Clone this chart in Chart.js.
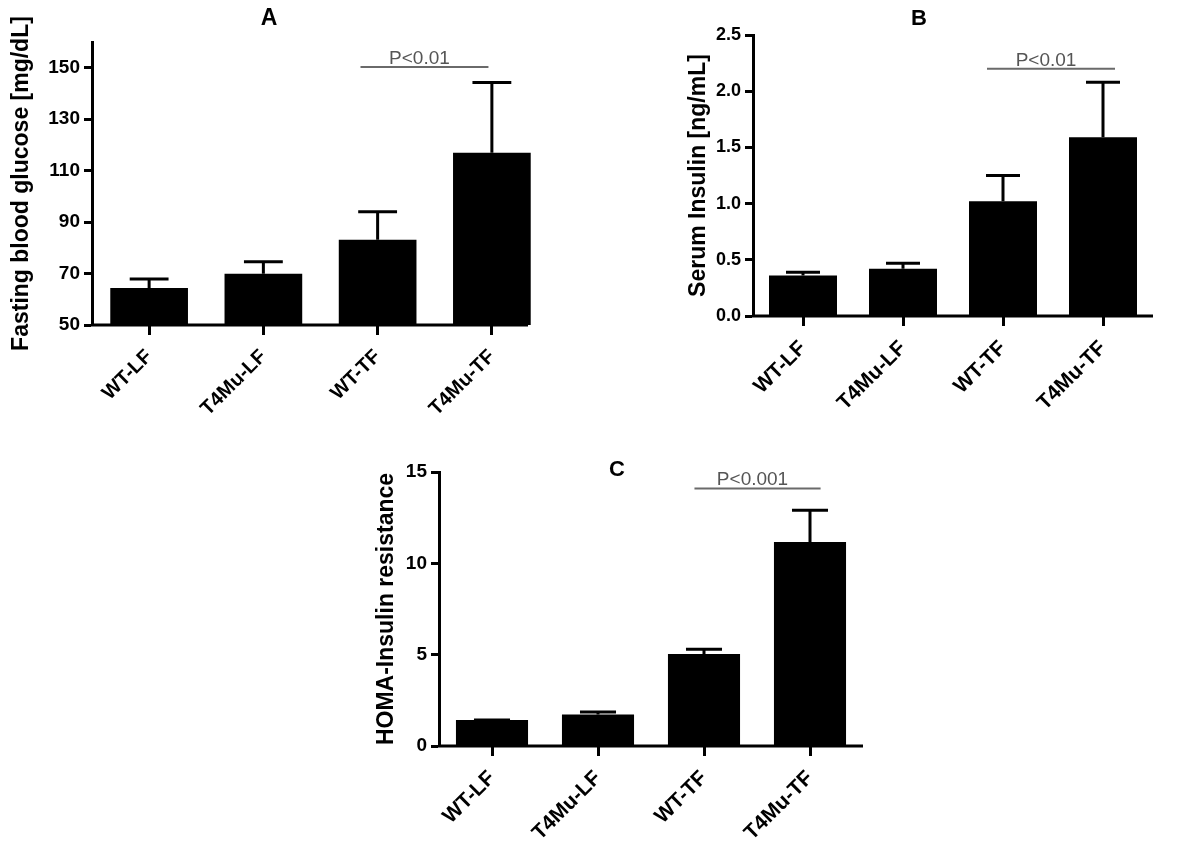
<!DOCTYPE html>
<html>
<head>
<meta charset="utf-8">
<script src="https://cdn.jsdelivr.net/npm/chart.js@4"></script>
<style>
  body { margin: 0; background: #fff; }
  #page { position: relative; width: 1200px; height: 845px; overflow: hidden; }
  canvas { position: absolute; }
</style>
</head>
<body>
<div id="page">
  <canvas id="chartA" width="560" height="420" style="left:0;top:0"></canvas>
  <canvas id="chartB" width="490" height="420" style="left:680px;top:0"></canvas>
  <canvas id="chartC" width="520" height="405" style="left:370px;top:440px"></canvas>
</div>
<script>
const groups = ['WT-LF', 'T4Mu-LF', 'WT-TF', 'T4Mu-TF'];

// A: fasting blood glucose (mean, SEM)
const glucoseMean = [64.4, 69.9, 83.1, 117.0];
const glucoseSem = [3.5, 4.7, 10.9, 27.3];
const glucoseTicks = [50, 70, 90, 110, 130, 150];

// B: serum insulin
const insulinMean = [0.36, 0.42, 1.02, 1.59];
const insulinSem = [0.03, 0.05, 0.23, 0.49];
const insulinTicks = [0, 0.5, 1.0, 1.5, 2.0, 2.5];

// C: HOMA-IR
const homaMean = [1.42, 1.72, 5.03, 11.17];
const homaSem = [0.01, 0.14, 0.27, 1.73];
const homaTicks = [0, 5, 10, 15];

Chart.defaults.font.family = "'Liberation Sans', Arial, sans-serif";
Chart.defaults.color = '#000';

// upward-only error bars (mean + SEM)
const errorBars = {
  id: 'errorBars',
  afterDatasetsDraw(chart, args, opts) {
    const ctx = chart.ctx;
    const y = chart.scales.y;
    const vals = chart.data.datasets[0].data;
    ctx.save();
    ctx.strokeStyle = '#000';
    ctx.lineWidth = 3;
    chart.getDatasetMeta(0).data.forEach((bar, i) => {
      const top = y.getPixelForValue(vals[i] + opts.sem[i]);
      const half = bar.width / 4;
      ctx.beginPath();
      ctx.moveTo(bar.x, bar.y);
      ctx.lineTo(bar.x, top);
      ctx.moveTo(bar.x - half, top);
      ctx.lineTo(bar.x + half, top);
      ctx.stroke();
    });
    ctx.restore();
  }
};

// x axis line, panel letter and the significance bar
const decor = {
  id: 'decor',
  afterDraw(chart, args, o) {
    const {ctx, chartArea: a} = chart;
    const x = chart.scales.x, y = chart.scales.y;
    ctx.save();
    ctx.strokeStyle = '#000';
    ctx.lineWidth = 3;
    ctx.beginPath();
    ctx.moveTo(a.left - 1, a.bottom);
    ctx.lineTo(a.right - (o.trim || 0), a.bottom);
    ctx.stroke();

    ctx.fillStyle = '#000';
    ctx.font = "bold " + o.letterSize + "px 'Liberation Sans', Arial, sans-serif";
    ctx.textAlign = 'center';
    ctx.textBaseline = 'middle';
    ctx.fillText(o.letter, o.letterX, o.letterY);

    const step = x.getPixelForValue(1) - x.getPixelForValue(0);
    const x1 = x.getPixelForValue(o.sig.from) - o.sig.padL * step;
    const x2 = x.getPixelForValue(o.sig.to) + o.sig.padR * step;
    const yy = y.getPixelForValue(o.sig.value);
    ctx.strokeStyle = '#6a6a6a';
    ctx.lineWidth = 2;
    ctx.beginPath();
    ctx.moveTo(x1, yy);
    ctx.lineTo(x2, yy);
    ctx.stroke();
    ctx.fillStyle = '#555';
    ctx.font = "19px 'Liberation Sans', Arial, sans-serif";
    ctx.textBaseline = 'alphabetic';
    ctx.fillText(o.sig.label, (x1 + x2) / 2 - 5, yy - 3);
    ctx.restore();
  }
};

function makeChart(id, cfg) {
  return new Chart(document.getElementById(id), {
    type: 'bar',
    data: {
      labels: groups,
      datasets: [{
        data: cfg.values,
        backgroundColor: '#000',
        borderWidth: 0,
        categoryPercentage: 1,
        barPercentage: 0.68
      }]
    },
    options: {
      responsive: false,
      animation: false,
      layout: { padding: cfg.pad },
      plugins: {
        legend: { display: false },
        tooltip: { enabled: false },
        errorBars: { sem: cfg.sem },
        decor: cfg.decor
      },
      scales: {
        x: {
          afterFit: s => { s.height = cfg.xh; },
          border: { display: false },
          grid: { offset: false, drawOnChartArea: false, tickLength: 10, tickWidth: 3, tickColor: '#000' },
          ticks: {
            minRotation: 45, maxRotation: 45, padding: 10,
            font: { size: cfg.xFont, weight: 'bold' }
          }
        },
        y: {
          min: cfg.min,
          max: cfg.max,
          afterFit: s => { s.width = cfg.yw; },
          afterBuildTicks: s => { s.ticks = cfg.ticks.map(v => ({ value: v })); },
          border: { display: true, color: '#000', width: 3 },
          grid: { drawOnChartArea: false, tickLength: 8, tickWidth: 3, tickColor: '#000' },
          ticks: {
            padding: 4,
            font: { size: cfg.yFont, weight: 'bold' },
            callback: v => v.toFixed(cfg.decimals)
          },
          title: {
            display: true,
            text: cfg.title,
            font: { size: 23, weight: 'bold' },
            padding: { top: cfg.titlePad, bottom: 0 }
          }
        }
      }
    },
    plugins: [errorBars, decor]
  });
}

makeChart('chartA', {
  values: glucoseMean, sem: glucoseSem, ticks: glucoseTicks,
  min: 50, max: 160, decimals: 0, xFont: 20, yFont: 19,
  title: 'Fasting blood glucose [mg/dL]', titlePad: 8,
  pad: { top: 42, right: 11, left: 0, bottom: 0 }, yw: 92, xh: 95,
  decor: { trim: 21, letter: 'A', letterSize: 23, letterX: 269, letterY: 19,
    sig: { from: 2, to: 3, value: 150.3, label: 'P<0.01', padL: 0.15, padR: -0.03 } }
});

makeChart('chartB', {
  values: insulinMean, sem: insulinSem, ticks: insulinTicks,
  min: 0, max: 2.5, decimals: 1, xFont: 21, yFont: 18,
  title: 'Serum Insulin [ng/mL]', titlePad: 5,
  pad: { top: 35, right: 17, left: 0, bottom: 0 }, yw: 73, xh: 104,
  decor: { trim: 0, letter: 'B', letterSize: 22, letterX: 239, letterY: 19,
    sig: { from: 2, to: 3, value: 2.2, label: 'P<0.01', padL: 0.16, padR: 0.12 } }
});

makeChart('chartC', {
  values: homaMean, sem: homaSem, ticks: homaTicks,
  min: 0, max: 15, decimals: 0, xFont: 21, yFont: 19,
  title: 'HOMA-Insulin resistance', titlePad: 3,
  pad: { top: 32, right: 27, left: 0, bottom: 0 }, yw: 69, xh: 99,
  decor: { trim: 0, letter: 'C', letterSize: 22, letterX: 247, letterY: 30,
    sig: { from: 2, to: 3, value: 14.1, label: 'P<0.001', padL: 0.09, padR: 0.10 } }
});
</script>
</body>
</html>
